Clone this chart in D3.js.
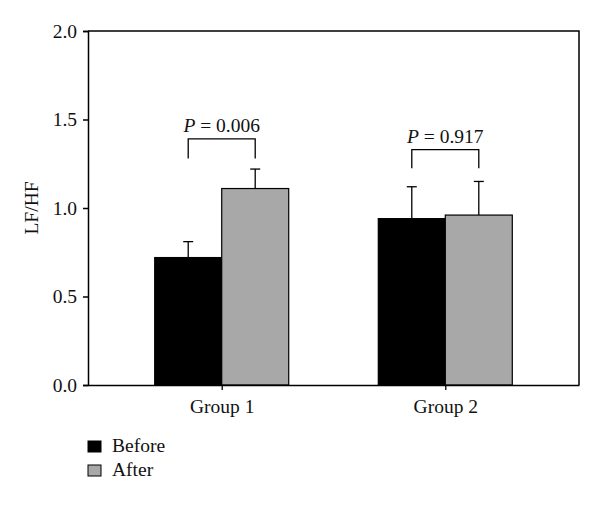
<!DOCTYPE html>
<html>
<head>
<meta charset="utf-8">
<script src="https://cdn.jsdelivr.net/npm/d3@7"></script>
<style>
  html, body { margin: 0; padding: 0; background: #fff; }
  text { font-family: "Liberation Serif", "DejaVu Serif", serif; fill: #111; }
</style>
</head>
<body>
<svg id="chart" width="600" height="505"></svg>
<script>
const groups = ["Group 1", "Group 2"];
const seriesNames = ["Before", "After"];
const beforeValues = [0.72, 0.94];
const afterValues = [1.11, 0.96];
const beforeErrors = [0.09, 0.18];
const afterErrors = [0.11, 0.19];
const pLabels = ["0.006", "0.917"];
const bracketTop = [1.39, 1.33];
const bracketBottom = [1.28, 1.225];
const yTicks = [0.0, 0.5, 1.0, 1.5, 2.0];
const colors = ["#000000", "#a8a8a8"];

const svg = d3.select("#chart");
const mLeft = 88, mRight = 579, mTop = 31, mBottom = 385;
const fs = 19.5;

const y = d3.scaleLinear().domain([0, 2]).range([mBottom, mTop]);
const x = d3.scalePoint().domain(groups).range([mLeft, mRight]).padding(0.598);
const barW = 67;

const g = svg.append("g");

// bars
const series = [beforeValues, afterValues];
const errs = [beforeErrors, afterErrors];
series.forEach((vals, si) => {
  g.selectAll(null).data(groups).enter().append("rect")
    .attr("x", d => si === 0 ? x(d) - barW : x(d))
    .attr("y", (d, i) => y(vals[i]))
    .attr("width", barW)
    .attr("height", (d, i) => y(0) - y(vals[i]))
    .attr("fill", colors[si])
    .attr("stroke", "#000")
    .attr("stroke-width", 1.2);
});

// error bars (upward only)
series.forEach((vals, si) => {
  groups.forEach((gname, i) => {
    const cx = si === 0 ? x(gname) - barW / 2 : x(gname) + barW / 2;
    const yt = y(vals[i] + errs[si][i]);
    g.append("line").attr("x1", cx).attr("x2", cx)
      .attr("y1", y(vals[i])).attr("y2", yt)
      .attr("stroke", "#000").attr("stroke-width", 1.3);
    g.append("line").attr("x1", cx - 5).attr("x2", cx + 5)
      .attr("y1", yt).attr("y2", yt)
      .attr("stroke", "#000").attr("stroke-width", 1.3);
  });
});

// brackets and p-values
groups.forEach((gname, i) => {
  const x1 = x(gname) - barW / 2, x2 = x(gname) + barW / 2;
  const yt = y(bracketTop[i]), yb = y(bracketBottom[i]);
  g.append("path")
    .attr("d", `M${x1},${yb}V${yt}H${x2}V${yb}`)
    .attr("fill", "none").attr("stroke", "#000").attr("stroke-width", 1.3);
  const t = g.append("text")
    .attr("x", x(gname)).attr("y", yt - 7)
    .attr("text-anchor", "middle").attr("font-size", fs);
  t.append("tspan").attr("font-style", "italic").text("P");
  t.append("tspan").text(" = " + pLabels[i]);
});

// frame (top + right)
g.append("path")
  .attr("d", `M${mLeft},${mTop}H${mRight}V${mBottom}`)
  .attr("fill", "none").attr("stroke", "#000").attr("stroke-width", 1.5);

// y axis
const yAxis = g.append("g").attr("transform", `translate(${mLeft},0)`)
  .call(d3.axisLeft(y).tickValues(yTicks).tickFormat(d3.format(".1f")).tickSize(5).tickPadding(6));
yAxis.select(".domain").attr("stroke-width", 1.5);
yAxis.selectAll(".tick line").attr("stroke-width", 1.5);
yAxis.selectAll("text").attr("font-size", fs).attr("font-family", "Liberation Serif").attr("fill", "#111");

// x axis
const xAxis = g.append("g").attr("transform", `translate(0,${mBottom})`)
  .call(d3.axisBottom(x).tickSize(5).tickSizeOuter(0).tickPadding(9));
xAxis.select(".domain").attr("stroke-width", 1.5);
xAxis.selectAll(".tick line").attr("stroke-width", 1.3);
xAxis.selectAll("text").attr("font-size", fs).attr("font-family", "Liberation Serif").attr("fill", "#111");

// y label
svg.append("text")
  .attr("transform", `translate(38,208) rotate(-90)`)
  .attr("text-anchor", "middle").attr("font-size", fs)
  .text("LF/HF");

// legend
const legend = svg.append("g");
seriesNames.forEach((name, i) => {
  const ly = 441 + i * 24;
  legend.append("rect").attr("x", 88).attr("y", ly)
    .attr("width", 13).attr("height", 11)
    .attr("fill", colors[i]).attr("stroke", "#000").attr("stroke-width", 1);
  legend.append("text").attr("x", 112).attr("y", ly + 11)
    .attr("font-size", fs).text(name);
});
</script>
</body>
</html>
